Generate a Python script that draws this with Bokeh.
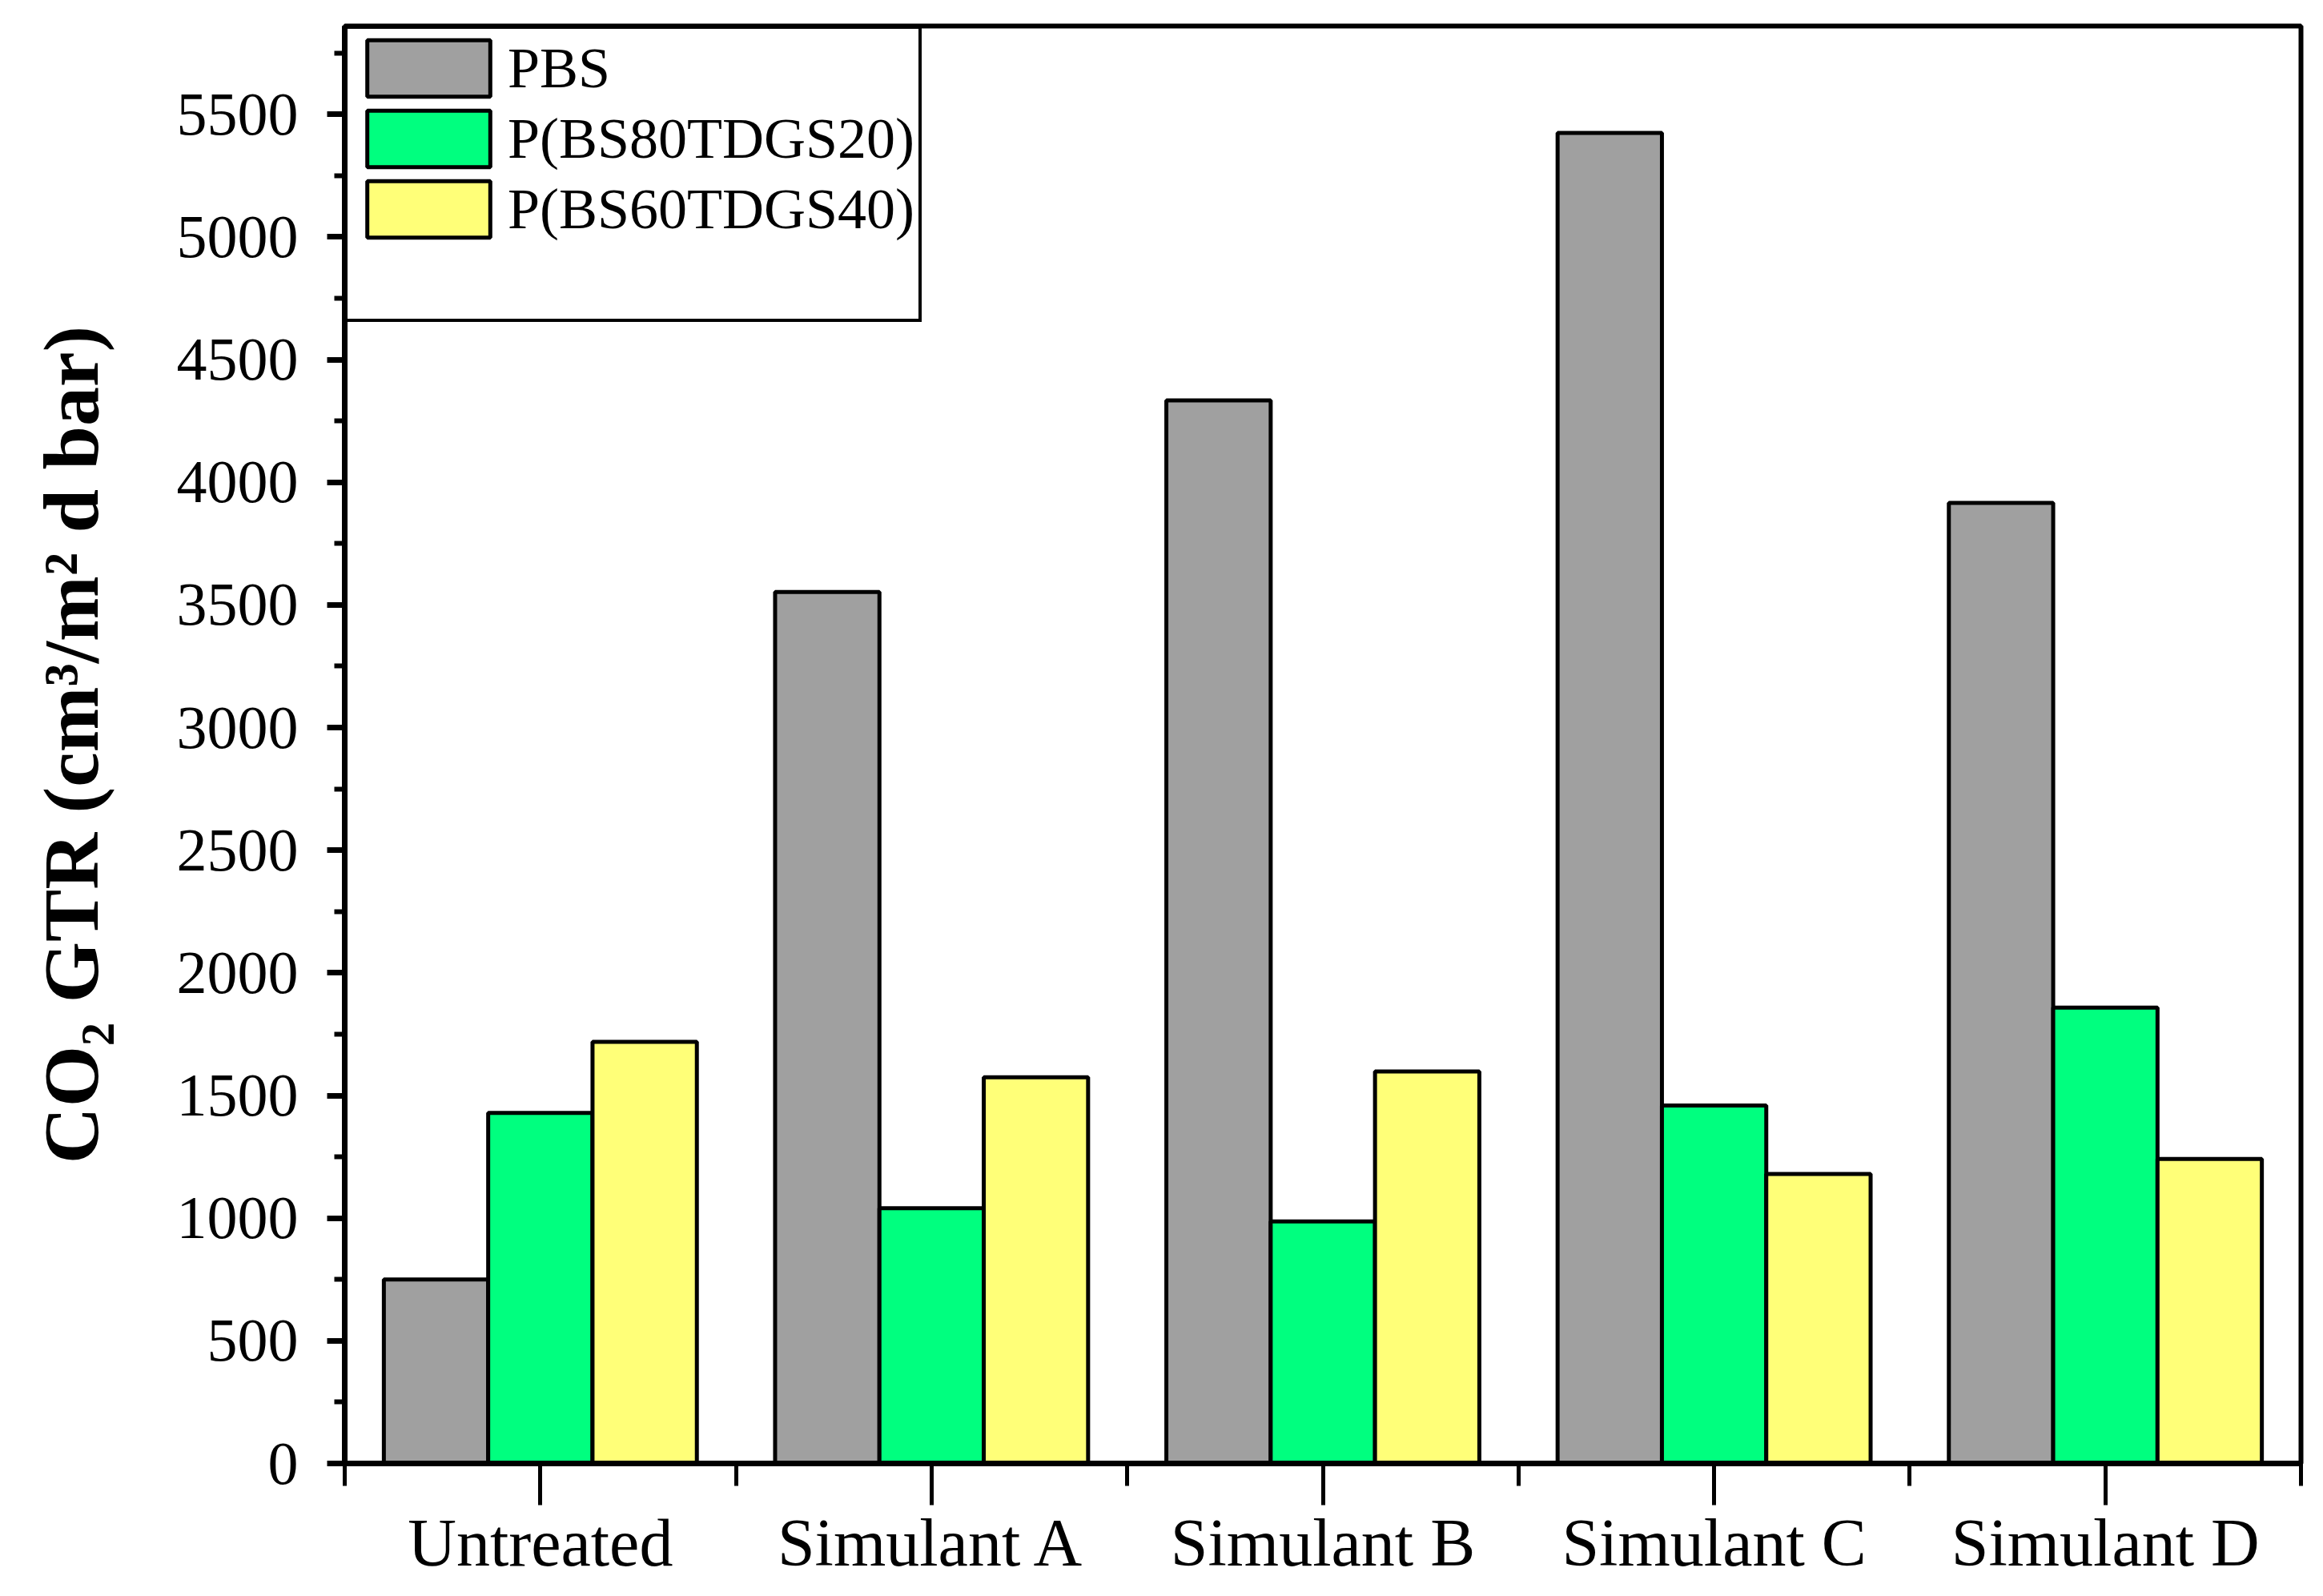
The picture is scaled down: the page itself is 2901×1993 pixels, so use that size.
from bokeh.plotting import figure
from bokeh.models import Range1d, FixedTicker, Legend, LegendItem, ColumnDataSource
from bokeh.embed import file_html
from bokeh.resources import INLINE

categories = ["Untreated", "Simulant A", "Simulant B", "Simulant C", "Simulant D"]
series_names = ["PBS", "P(BS80TDGS20)", "P(BS60TDGS40)"]
pbs = [750, 3553, 4334, 5424, 3916]
bs80 = [1429, 1041, 987, 1459, 1858]
bs60 = [1719, 1574, 1598, 1180, 1241]
colors = ["#A0A0A0", "#00FF7F", "#FFFF78"]
y_ticks = [0, 500, 1000, 1500, 2000, 2500, 3000, 3500, 4000, 4500, 5000, 5500]

FONT = "Liberation Serif"

p = figure(width=2884, height=1977, output_backend="svg", toolbar_location=None,
           x_range=Range1d(0, 5), y_range=Range1d(0, 5860),
           min_border_left=430, min_border_right=11, min_border_top=32, min_border_bottom=150)

p.grid.visible = False
p.outline_line_color = "black"
p.outline_line_width = 6
p.outline_line_alpha = 1
p.background_fill_color = "white"
p.border_fill_color = "white"

group_w = 0.8
bar_w = group_w / 3
series = [pbs, bs80, bs60]
renderers = []
for k, vals in enumerate(series):
    xs = [i + 0.5 - group_w / 2 + bar_w * (k + 0.5) for i in range(len(categories))]
    src = ColumnDataSource(dict(x=xs, top=vals))
    r = p.vbar(x="x", top="top", width=bar_w, bottom=0, source=src,
               fill_color=colors[k], line_color="black", line_width=5)
    renderers.append(r)

# x axis
xa = p.xaxis[0]
xa.ticker = FixedTicker(ticks=[i + 0.5 for i in range(len(categories))],
                        minor_ticks=list(range(len(categories) + 1)))
xa.major_label_overrides = {i + 0.5: c for i, c in enumerate(categories)}
xa.major_label_text_font = FONT
xa.major_label_text_font_size = "84px"
xa.major_label_text_color = "black"
xa.major_label_standoff = 0
xa.axis_line_width = 7
xa.axis_line_color = "black"
xa.major_tick_out = 52
xa.major_tick_in = 0
xa.minor_tick_out = 28
xa.minor_tick_in = 0
xa.major_tick_line_width = 5
xa.minor_tick_line_width = 5
xa.major_tick_line_color = "black"
xa.minor_tick_line_color = "black"

# y axis
ya = p.yaxis[0]
ya.ticker = FixedTicker(ticks=y_ticks, minor_ticks=[v + 250 for v in y_ticks])
ya.major_label_text_font = FONT
ya.major_label_text_font_size = "76px"
ya.major_label_text_color = "black"
ya.major_label_standoff = 36
ya.axis_line_width = 7
ya.axis_line_color = "black"
ya.major_tick_out = 22
ya.major_tick_in = 0
ya.minor_tick_out = 13
ya.minor_tick_in = 0
ya.major_tick_line_width = 7
ya.minor_tick_line_width = 6
ya.axis_label = "CO\u2082 GTR (cm\u00b3/m\u00b2 d bar)"
ya.axis_label_text_font = FONT
ya.axis_label_text_font_style = "bold"
ya.axis_label_text_font_size = "98px"
ya.axis_label_text_color = "black"
ya.axis_label_standoff = 75

# invisible renderer used only to give the legend box its empty bottom row
blank = p.vbar(x=[], top=[], width=bar_w, fill_alpha=0, line_alpha=0)

items = [LegendItem(label=n, renderers=[r]) for n, r in zip(series_names, renderers)]
items.append(LegendItem(label=" ", renderers=[blank]))
legend = Legend(items=items, location="top_left")
legend.margin = 0
legend.padding = 5
legend.spacing = 0
legend.glyph_width = 192
legend.glyph_height = 88
legend.label_standoff = 3
legend.label_text_font = FONT
legend.label_text_font_size = "72px"
legend.label_text_color = "black"
legend.border_line_color = "black"
legend.border_line_width = 4
legend.border_line_alpha = 1
legend.background_fill_alpha = 1
p.add_layout(legend)

open("out.html", "w").write(file_html(p, INLINE))
